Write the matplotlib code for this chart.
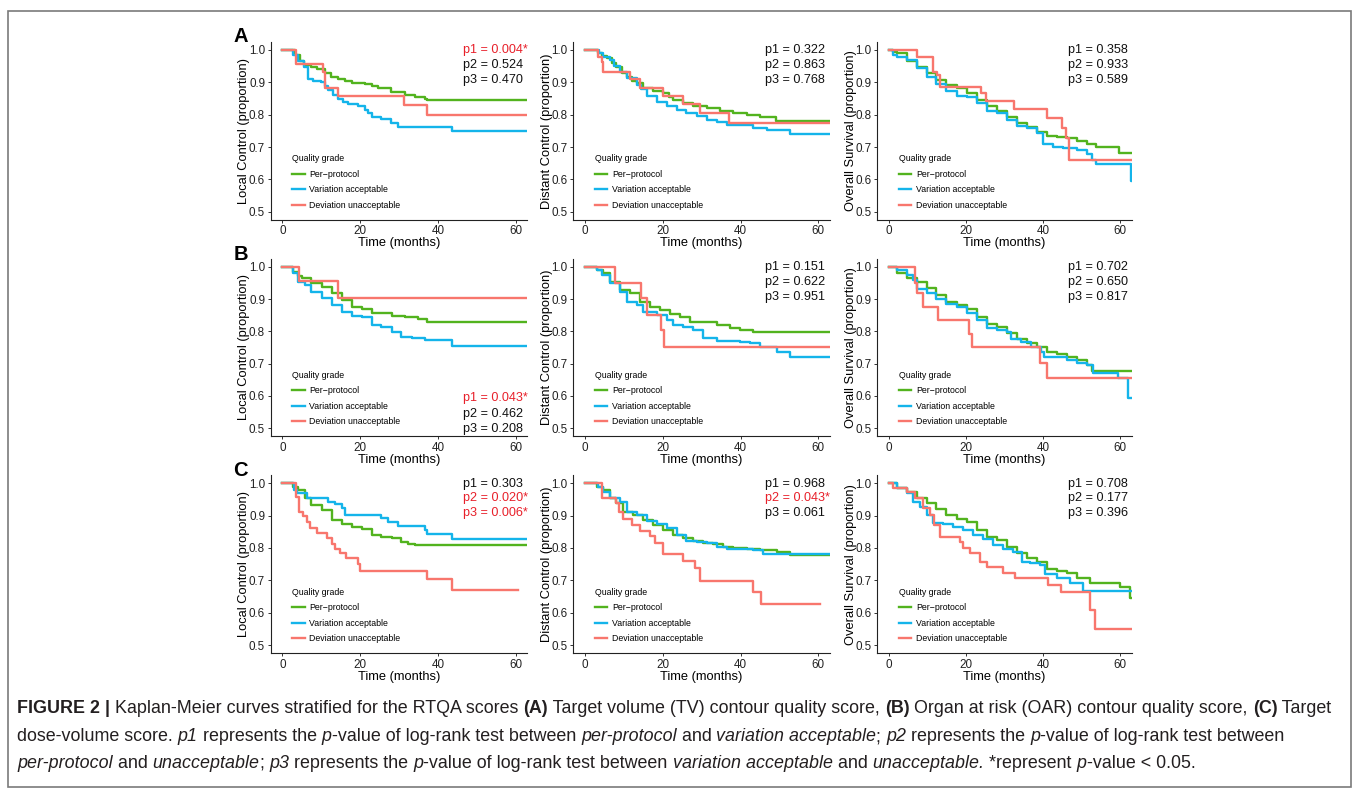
import numpy as np
import matplotlib
matplotlib.use('Agg')
import matplotlib.pyplot as plt
from matplotlib.font_manager import FontProperties, findfont
from matplotlib.patches import Rectangle
from matplotlib.transforms import IdentityTransform

plt.rcParams['font.family'] = ['Liberation Sans', 'DejaVu Sans']

# ---- data: (months, proportion) step points ----
# row A: target volume contour score
a_lc_pp = [(0,1.0),(3.3,0.985),(4.5,0.965),(5.5,0.955),(7.5,0.948),(9,0.94),(11,0.928),(12.5,0.918),(14.4,0.909),
           (16,0.903),(17.8,0.899),(21.3,0.895),(23,0.888),(24.7,0.881),(28,0.871),(31.5,0.861),(34,0.855),
           (36.7,0.849),(37.2,0.844),(63.5,0.844)]
a_lc_va = [(0,1.0),(2.8,0.985),(4,0.965),(5.5,0.948),(6.5,0.91),(8,0.905),(10,0.902),(11,0.89),(11.8,0.876),
           (13,0.862),(14.4,0.85),(15.5,0.84),(17,0.833),(19.5,0.827),(21.3,0.814),(22,0.805),(23,0.794),
           (25.5,0.787),(28,0.775),(29.8,0.763),(43.5,0.749),(63.5,0.749)]
a_lc_du = [(0,1.0),(3.5,0.956),(10.5,0.933),(11,0.884),(14.3,0.858),(31.3,0.829),(37.1,0.8),(63.5,0.8)]

a_dc_pp = [(0,1.0),(3.4,0.99),(4.5,0.98),(5.6,0.974),(7,0.96),(8.1,0.948),(9.5,0.93),(10.7,0.915),(12,0.905),
           (13.3,0.897),(15,0.881),(17.6,0.873),(20.1,0.866),(21.5,0.855),(22.7,0.845),(25.3,0.835),(27.9,0.827),
           (31.3,0.822),(34.7,0.812),(38.1,0.804),(41.6,0.799),(45,0.792),(49.1,0.781),(63.5,0.781)]
a_dc_va = [(0,1.0),(3.5,0.99),(4.7,0.979),(6.4,0.969),(7.5,0.95),(9,0.933),(10.7,0.912),(13.3,0.892),(14.5,0.88),
           (15.9,0.858),(18.4,0.84),(21,0.827),(23.6,0.816),(26.1,0.806),(28.7,0.796),(31.3,0.783),(33.9,0.778),
           (36.4,0.768),(43.3,0.758),(46.7,0.753),(52.7,0.739),(63.5,0.739)]
a_dc_du = [(0,1.0),(3.4,0.979),(4.3,0.964),(4.7,0.933),(11.7,0.909),(14.1,0.881),(20,0.858),(25.1,0.833),
           (29.6,0.806),(37.1,0.773),(63.5,0.773)]

a_os_pp = [(0,1.0),(1,0.995),(2.1,0.99),(4.7,0.967),(7.3,0.948),(9.9,0.928),(12.4,0.907),(15,0.892),(17.6,0.881),
           (20.2,0.868),(22.8,0.845),(25.4,0.827),(28,0.812),(30.6,0.794),(33.2,0.773),(35.8,0.761),(38.4,0.747),
           (41,0.734),(43.6,0.73),(46.2,0.727),(48.8,0.72),(51.4,0.709),(53.9,0.701),(59.8,0.682),(63.5,0.682)]
a_os_va = [(0,1.0),(1.2,0.985),(2.1,0.977),(4.7,0.969),(7.3,0.945),(9.9,0.918),(12.4,0.895),(15,0.874),
           (17.6,0.858),(20.2,0.854),(22.8,0.835),(25.4,0.812),(28,0.804),(30.6,0.783),(33.2,0.765),(35.8,0.758),
           (38.4,0.744),(40.1,0.709),(42.7,0.699),(45.3,0.696),(48.8,0.691),(51.4,0.678),(52.7,0.66),
           (53.9,0.647),(62.8,0.596),(63.5,0.596)]
a_os_du = [(0,1.0),(7.4,0.979),(11.6,0.933),(12.6,0.923),(13.3,0.887),(23.9,0.866),(25.2,0.842),(32.5,0.817),
           (41.2,0.791),(44.9,0.76),(46,0.727),(46.9,0.66),(63.5,0.66)]

# row B: organ at risk contour score
b_lc_pp = [(0,1.0),(2.8,0.985),(4,0.97),(5,0.964),(7.5,0.948),(10.1,0.936),(12.7,0.918),(15.3,0.897),(17.8,0.876),
           (20.4,0.868),(23,0.858),(25.5,0.856),(28.1,0.847),(31.5,0.843),(35,0.838),(37.1,0.83),(63.5,0.83)]
b_lc_va = [(0,1.0),(2.8,0.98),(4.1,0.954),(5.8,0.943),(7.5,0.923),(10.1,0.902),(12.7,0.881),(15.3,0.861),
           (17.8,0.848),(20.4,0.845),(23,0.82),(25.5,0.812),(28.1,0.799),(30.6,0.784),(33.3,0.778),(36.7,0.773),
           (43.5,0.756),(63.5,0.756)]
b_lc_du = [(0,1.0),(4.3,0.957),(14.4,0.904),(63.5,0.904)]

b_dc_pp = [(0,1.0),(3,0.99),(4.7,0.979),(6.4,0.954),(9,0.928),(11.6,0.918),(14.1,0.892),(16.7,0.874),(19.3,0.866),
           (21.9,0.854),(24.4,0.845),(27,0.83),(33.9,0.82),(37.3,0.811),(39.9,0.804),(43.3,0.799),(63.5,0.799)]
b_dc_va = [(0,1.0),(3,0.99),(4.3,0.974),(6.4,0.948),(9,0.923),(10.7,0.892),(13.3,0.881),(15,0.861),(18.4,0.851),
           (21,0.835),(22.7,0.82),(25.3,0.812),(27.9,0.804),(30.4,0.778),(33.9,0.771),(39.9,0.768),(42.4,0.763),
           (45,0.751),(49.3,0.737),(52.7,0.721),(63.5,0.721)]
b_dc_du = [(0,1.0),(7.7,0.951),(14.4,0.902),(16,0.851),(19.5,0.804),(20.3,0.751),(63.5,0.751)]

b_os_pp = [(0,1.0),(2.1,0.979),(4.7,0.964),(7.3,0.952),(9.9,0.933),(12.4,0.912),(15,0.892),(17.6,0.881),
           (20.2,0.868),(22.8,0.845),(25.4,0.823),(28,0.814),(30.6,0.794),(33.2,0.776),(35.8,0.765),(38.4,0.753),
           (41,0.737),(43.6,0.73),(46.2,0.722),(48.8,0.711),(51.4,0.696),(52.7,0.678),(63.5,0.678)]
b_os_va = [(0,1.0),(2.1,0.99),(4.7,0.974),(6.4,0.959),(7.3,0.93),(9.9,0.918),(12.4,0.899),(15,0.885),(17.6,0.874),
           (20.2,0.856),(22.8,0.835),(25.4,0.809),(28,0.804),(30.6,0.799),(31.7,0.776),(34.3,0.768),(36.8,0.753),
           (39.4,0.737),(40.2,0.722),(43.6,0.72),(46.2,0.711),(48.8,0.701),(51.4,0.696),(53.1,0.67),
           (59.6,0.655),(62.2,0.593),(63.5,0.593)]
b_os_du = [(0,1.0),(6.8,0.948),(7.4,0.918),(9,0.874),(12.9,0.835),(20.9,0.792),(21.7,0.751),(39.2,0.703),
           (41.2,0.657),(63.5,0.657)]

# row C: target dose-volume score
c_lc_pp = [(0,1.0),(2.8,0.99),(4.1,0.979),(5.8,0.954),(7.5,0.933),(10.1,0.918),(12.7,0.887),(15.3,0.873),
           (17.8,0.866),(20.4,0.859),(23,0.84),(25.5,0.833),(28.1,0.83),(30.6,0.818),(32.4,0.811),(34.1,0.809),
           (63.5,0.809)]
c_lc_va = [(0,1.0),(3,0.98),(3.7,0.969),(6.3,0.956),(11.8,0.943),(13.5,0.935),(15.3,0.923),(16.1,0.902),
           (25.5,0.892),(27.3,0.881),(29.8,0.869),(36.7,0.856),(37.1,0.842),(43.5,0.828),(63.5,0.828)]
c_lc_du = [(0,1.0),(3.4,0.959),(4.3,0.912),(5.4,0.9),(6.3,0.881),(7.1,0.861),(8.8,0.845),(11.4,0.83),(12.7,0.811),
           (13.5,0.797),(14.8,0.784),(16.5,0.768),(19.5,0.751),(20,0.729),(37.1,0.703),(43.7,0.67),(60.5,0.67)]

c_dc_pp = [(0,1.0),(3,0.99),(4.7,0.979),(6.4,0.954),(8.1,0.938),(9.9,0.912),(12.4,0.902),(15,0.887),(17.6,0.871),
           (20.1,0.856),(22.7,0.84),(25.3,0.83),(27.9,0.822),(30.4,0.814),(33,0.811),(35.6,0.804),(38.1,0.799),
           (41.6,0.797),(45,0.794),(49.3,0.787),(52.7,0.778),(63.5,0.778)]
c_dc_va = [(0,1.0),(3.4,0.99),(4.7,0.974),(6.4,0.956),(9,0.943),(10.7,0.912),(13.3,0.902),(15.9,0.884),
           (18.4,0.873),(21,0.861),(23.6,0.84),(26.1,0.822),(28.7,0.82),(31.3,0.814),(33.9,0.804),(36.4,0.797),
           (43.3,0.794),(45.9,0.78),(63.5,0.78)]
c_dc_du = [(0,1.0),(4.5,0.954),(8,0.938),(8.8,0.912),(9.9,0.89),(12,0.871),(14.1,0.853),(16.7,0.838),(18,0.814),
           (20.1,0.78),(25.1,0.76),(28.3,0.737),(29.6,0.698),(43.1,0.663),(45.2,0.626),(60.4,0.626)]

c_os_pp = [(0,1.0),(2.1,0.985),(4.7,0.974),(7.3,0.954),(9.9,0.938),(12.4,0.921),(15,0.902),(17.6,0.89),
           (20.2,0.879),(22.8,0.856),(25.4,0.835),(28,0.825),(30.6,0.804),(33.2,0.784),(35.8,0.77),(38.4,0.758),
           (41,0.735),(43.6,0.729),(46.2,0.722),(48.8,0.708),(52.2,0.691),(60,0.68),(62.6,0.646),(63.5,0.646)]
c_os_va = [(0,1.0),(2.1,0.985),(4.7,0.969),(6.4,0.943),(8.1,0.928),(9.9,0.902),(11.6,0.876),(14.2,0.873),
           (16.8,0.866),(19.4,0.856),(21.9,0.84),(24.6,0.828),(27.1,0.809),(29.7,0.797),(32.3,0.787),(34.5,0.758),
           (36.7,0.753),(39.2,0.747),(40.5,0.719),(43.6,0.708),(47,0.691),(50.5,0.667),(63.5,0.667)]
c_os_du = [(0,1.0),(1.2,0.985),(4.8,0.972),(6.8,0.954),(9,0.923),(10.7,0.902),(11.8,0.871),(13.3,0.835),
           (18.5,0.818),(19.4,0.799),(21.1,0.784),(23.7,0.758),(25.4,0.742),(29.7,0.722),(32.8,0.706),
           (41.4,0.684),(44.6,0.663),(52.2,0.608),(53.5,0.549),(63.5,0.549)]

pvals_a = [['0.004*', '0.524', '0.470'], ['0.322', '0.863', '0.768'], ['0.358', '0.933', '0.589']]
pvals_b = [['0.043*', '0.462', '0.208'], ['0.151', '0.622', '0.951'], ['0.702', '0.650', '0.817']]
pvals_c = [['0.303', '0.020*', '0.006*'], ['0.968', '0.043*', '0.061'], ['0.708', '0.177', '0.396']]

ylabels = ['Local Control (proportion)', 'Distant Control (proportion)', 'Overall Survival (proportion)']
groups = ['Per\u2212protocol', 'Variation acceptable', 'Deviation unacceptable']
colors = ['#52B31E', '#14B4EA', '#F8766D']
row_letters = ['A', 'B', 'C']

curves = [[[a_lc_pp, a_lc_va, a_lc_du], [a_dc_pp, a_dc_va, a_dc_du], [a_os_pp, a_os_va, a_os_du]],
          [[b_lc_pp, b_lc_va, b_lc_du], [b_dc_pp, b_dc_va, b_dc_du], [b_os_pp, b_os_va, b_os_du]],
          [[c_lc_pp, c_lc_va, c_lc_du], [c_dc_pp, c_dc_va, c_dc_du], [c_os_pp, c_os_va, c_os_du]]]
pvals = [pvals_a, pvals_b, pvals_c]

W, H = 1358, 794
fig = plt.figure(figsize=(W/100, H/100), dpi=100)
fig.patch.set_facecolor('white')

col_l = [270.6, 573.3, 877.1]
col_r = [527.4, 830.0, 1131.5]
row_t = [41.9, 258.6, 475.2]
row_b = [219.8, 436.4, 653.1]
txt_red = '#E8202A'

for r in range(3):
    for c in range(3):
        ax = fig.add_axes([col_l[c]/W, 1-row_b[r]/H, (col_r[c]-col_l[c])/W, (row_b[r]-row_t[r])/H])
        for k in range(3):
            pts = np.array(curves[r][c][k])
            ax.step(pts[:, 0], pts[:, 1], where='post', color=colors[k], lw=1.7, label=groups[k])
        ax.set_xlim(-3, 63)
        ax.set_ylim(0.475, 1.025)
        ax.set_xticks([0, 20, 40, 60])
        ax.set_yticks([0.5, 0.6, 0.7, 0.8, 0.9, 1.0])
        ax.set_yticklabels(['0.5', '0.6', '0.7', '0.8', '0.9', '1.0'])
        for s in ['top', 'right']:
            ax.spines[s].set_visible(False)
        for s in ['left', 'bottom']:
            ax.spines[s].set_color('#222222')
            ax.spines[s].set_linewidth(0.8)
        ax.tick_params(length=2.5, width=0.7, color='#333333', labelsize=8.4, labelcolor='#222222', pad=1.5)
        ax.set_xlabel('Time (months)', fontsize=9.3, labelpad=0)
        ax.set_ylabel(ylabels[c], fontsize=9.3, labelpad=-1.0)
        ax.legend(loc='lower left', bbox_to_anchor=(0.085, 0.056), frameon=False, fontsize=6.3,
                  title='Quality grade', title_fontsize=6.3, alignment='left', handlelength=1.4,
                  handletextpad=0.55, labelspacing=0.74, borderpad=0, borderaxespad=0)
        # p-values
        bottom = (r == 1 and c == 0)
        ys = [0.594, 0.545, 0.497] if bottom else [0.999, 0.953, 0.907]
        for i, pv in enumerate(pvals[r][c]):
            col = txt_red if '*' in pv else '#111111'
            ax.text(46.4, ys[i], 'p%d = %s' % (i+1, pv), color=col, fontsize=9.1, ha='left', va='center')
    fig.text(240.5/W, 1-[36, 254, 470][r]/H, row_letters[r], fontsize=14.5, fontweight='bold',
             ha='center', va='center')

# outer frame
fig.patches.append(Rectangle((7.5, H-787), 1343, 776, transform=IdentityTransform(), fill=False,
                             edgecolor='#7a7a7a', lw=1.2))

# ---- caption with mixed styles ----
try:
    findfont('Liberation Sans Narrow', fallback_to_default=False)
    cap_family = 'Liberation Sans Narrow'
except Exception:
    cap_family = 'Liberation Sans'

renderer = fig.canvas.get_renderer()

def fprop(style, size):
    return FontProperties(family=cap_family, size=size,
                          weight='bold' if style == 'b' else 'normal',
                          style='italic' if style == 'i' else 'normal')

def seg_width(s, fp):
    t1 = fig.text(0, 0, '|' + s + '|', fontproperties=fp, transform=IdentityTransform())
    t2 = fig.text(0, 0, '||', fontproperties=fp, transform=IdentityTransform())
    w = t1.get_window_extent(renderer).width - t2.get_window_extent(renderer).width
    t1.remove()
    t2.remove()
    return w

def put_line(segs, x0, y0, size, draw=True):
    x = x0
    for s, st in segs:
        fp = fprop(st, size)
        if draw:
            fig.text(x, H - y0, s, fontproperties=fp, transform=IdentityTransform(), va='baseline',
                     color='#231F20')
        x += seg_width(s, fp)
    return x

cap1 = [('FIGURE 2 |', 'b'), (' Kaplan-Meier curves stratified for the RTQA scores ', 'n'), ('(A)', 'b'),
        (' Target volume (TV) contour quality score, ', 'n'), ('(B)', 'b'),
        (' Organ at risk (OAR) contour quality score, ', 'n'), ('(C)', 'b'), (' Target', 'n')]
cap2 = [('dose-volume score. ', 'n'), ('p1', 'i'), (' represents the ', 'n'), ('p', 'i'),
        ('-value of log-rank test between ', 'n'), ('per-protocol', 'i'), (' and ', 'n'),
        ('variation acceptable', 'i'), ('; ', 'n'), ('p2', 'i'), (' represents the ', 'n'), ('p', 'i'),
        ('-value of log-rank test between', 'n')]
cap3 = [('per-protocol', 'i'), (' and ', 'n'), ('unacceptable', 'i'), ('; ', 'n'), ('p3', 'i'),
        (' represents the ', 'n'), ('p', 'i'), ('-value of log-rank test between ', 'n'),
        ('variation acceptable', 'i'), (' and ', 'n'), ('unacceptable.', 'i'), (' *represent ', 'n'),
        ('p', 'i'), ('-value < 0.05.', 'n')]

x0 = 17
size0 = 10.0
w0 = put_line(cap1, 0, 0, size0, draw=False)
cap_size = size0 * (1340 - x0) / w0
for segs, yb in zip([cap1, cap2, cap3], [713, 741, 768]):
    put_line(segs, x0, yb, cap_size)

fig.savefig('out.png', dpi=100)
